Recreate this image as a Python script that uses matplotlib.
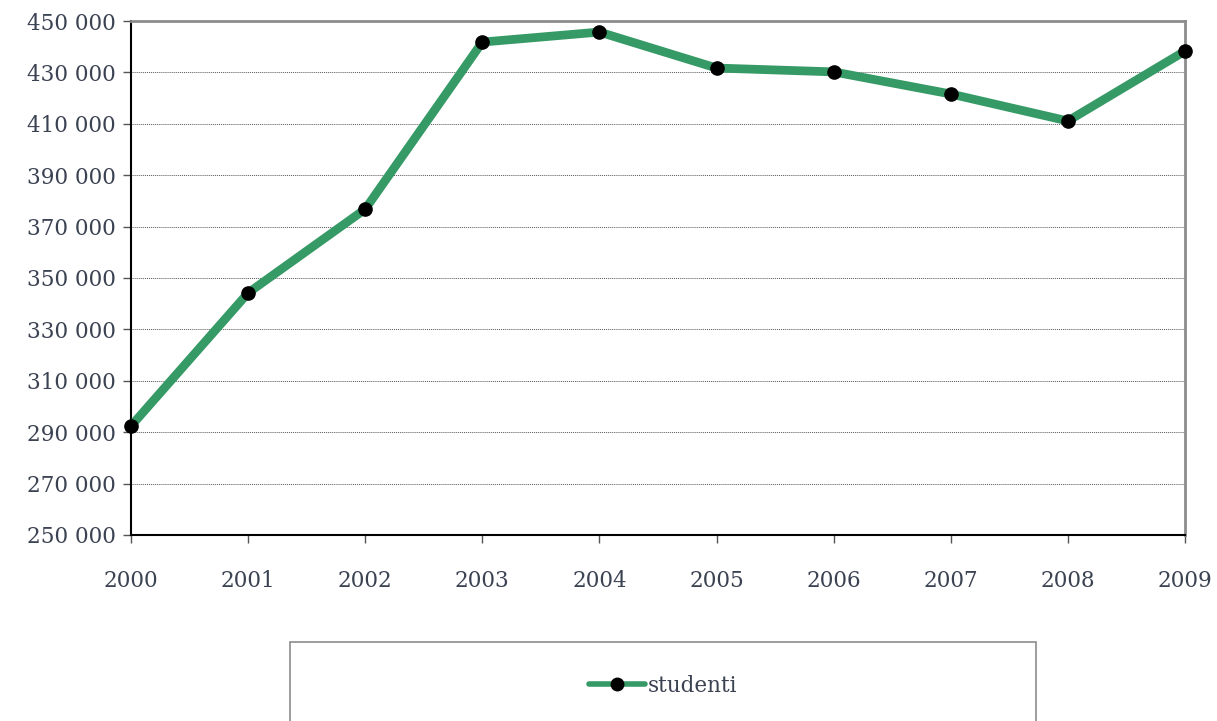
import matplotlib.pyplot as plt
from matplotlib.patches import Rectangle
from matplotlib.lines import Line2D
from matplotlib.ticker import FuncFormatter

plt.rcParams['font.family'] = ['DejaVu Serif']

# data
anni = [2000, 2001, 2002, 2003, 2004, 2005, 2006, 2007, 2008, 2009]
studenti = [292400, 344200, 376800, 441800, 445700, 431700, 430200, 421600, 411100, 438300]
y_ticks = list(range(250000, 450001, 20000))

W, H = 1217, 721
fig = plt.figure(figsize=(W / 100, H / 100), dpi=100)
ax = fig.add_axes([131 / W, 1 - 535 / H, (1185 - 131) / W, (535 - 21) / H])

text_col = '#3b4252'
green = '#359a65'

ax.plot(anni, studenti, color=green, lw=6.3, marker='o', ms=9.5,
        mfc='black', mec='black', zorder=3, clip_on=False)

ax.set_xlim(2000, 2009)
ax.set_ylim(250000, 450000)
ax.set_xticks(anni)
ax.set_yticks(y_ticks)
ax.yaxis.set_major_formatter(FuncFormatter(lambda v, p: f'{int(v):,}'.replace(',', ' ')))
ax.grid(axis='y', color='#555555', ls=(0, (1, 1)), lw=0.7)
ax.set_axisbelow(True)

for s in ['top', 'right']:
    ax.spines[s].set_color('#8c8c8c')
    ax.spines[s].set_linewidth(2)
for s in ['left', 'bottom']:
    ax.spines[s].set_color('black')
    ax.spines[s].set_linewidth(1.5)

ax.tick_params(axis='both', direction='out', length=6, width=1, color='#555555',
               labelsize=15.5, labelcolor=text_col)
ax.tick_params(axis='x', pad=19)
ax.tick_params(axis='y', pad=5)

# legend box, cut off at the bottom of the picture
fig.patches.append(Rectangle((290 / W, -0.05), (1036 - 290) / W, 0.05 + (H - 642) / H,
                             transform=fig.transFigure, fill=False,
                             edgecolor='#8c8c8c', lw=1.2))
handle = Line2D([], [], color=green, lw=4, marker='o', ms=9, mfc='black', mec='black',
                solid_capstyle='round')
fig.legend([handle], ['studenti'], loc='center', bbox_to_anchor=(663 / W, 1 - 686 / H),
           frameon=False, fontsize=15.5, labelcolor=text_col,
           handlelength=2.6, handletextpad=0.1)

fig.savefig('out.png', dpi=100)
